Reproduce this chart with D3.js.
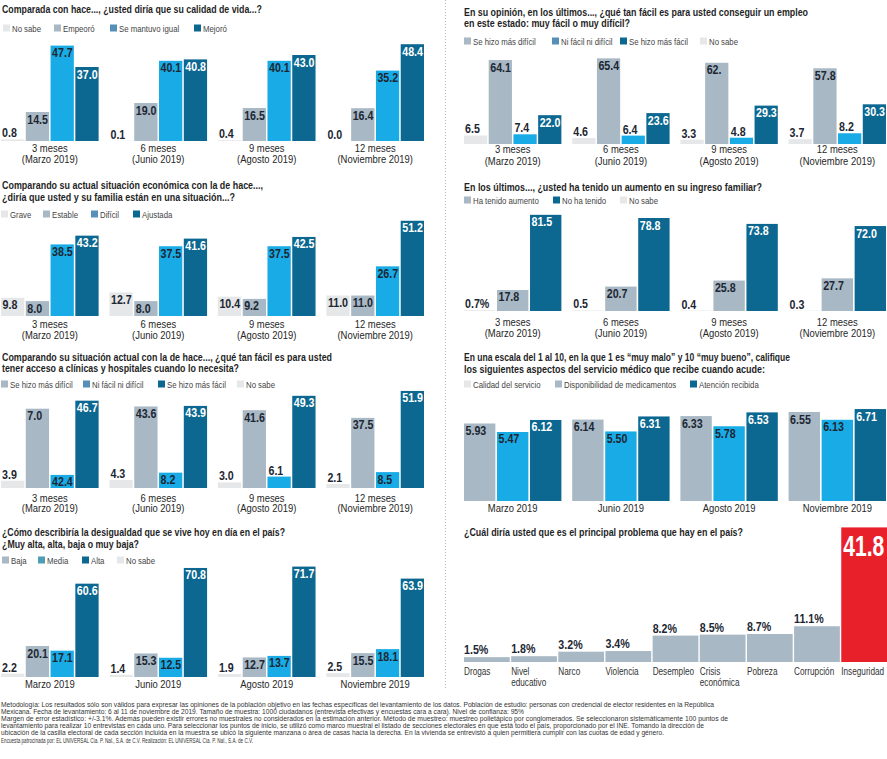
<!DOCTYPE html>
<html>
<head>
<meta charset="utf-8">
<script src="https://cdn.jsdelivr.net/npm/d3@7"></script>
<style>
body{margin:0;background:#fff;}
svg{display:block;font-family:'Liberation Sans',Arial,sans-serif;}
.tt{font-weight:bold;font-size:11px;fill:#1f1f1f;}
.lg{font-size:9.5px;fill:#444;}
.vl{font-weight:bold;font-size:13px;}
.ax text{font-size:11.5px;fill:#262626;}
.ax2 text{font-size:10px;fill:#333;}
.ft{font-size:7px;fill:#333;}
</style>
</head>
<body>
<div id="chart"></div>
<script>
/* datos */

var periodos = ["3 meses|(Marzo 2019)", "6 meses|(Junio 2019)", "9 meses|(Agosto 2019)", "12 meses|(Noviembre 2019)"];
var meses = ["Marzo 2019", "Junio 2019", "Agosto 2019", "Noviembre 2019"];

// calidad de vida
var vidaSeries = ["No sabe", "Empeoró", "Se mantuvo igual", "Mejoró"];
var vidaNoSabe = [0.8, 0.1, 0.4, 0.0];
var vidaEmpeoro = [14.5, 19.0, 16.5, 16.4];
var vidaIgual = [47.7, 40.1, 40.1, 35.2];
var vidaMejoro = [37.0, 40.8, 43.0, 48.4];

// empleo
var empleoSeries = ["No sabe", "Se hizo más difícil", "Ni fácil ni difícil", "Se hizo más fácil"];
var empleoNoSabe = [6.5, 4.6, 3.3, 3.7];
var empleoDificil = [64.1, 65.4, 62.0, 57.8];
var empleoNi = [7.4, 6.4, 4.8, 8.2];
var empleoFacil = [22.0, 23.6, 29.3, 30.3];

// situación económica
var ecoSeries = ["Grave", "Estable", "Difícil", "Ajustada"];
var ecoGrave = [9.8, 12.7, 10.4, 11.0];
var ecoEstable = [8.0, 8.0, 9.2, 11.0];
var ecoDificil = [38.5, 37.5, 37.5, 26.7];
var ecoAjustada = [43.2, 41.6, 42.5, 51.2];

// ingreso familiar
var ingresoSeries = ["No sabe", "Ha tenido aumento", "No ha tenido"];
var ingresoNoSabe = [0.7, 0.5, 0.4, 0.3];
var ingresoAumento = [17.8, 20.7, 25.8, 27.7];
var ingresoNo = [81.5, 78.8, 73.8, 72.0];

// clínicas y hospitales
var clinSeries = ["No sabe", "Se hizo más difícil", "Ni fácil ni difícil", "Se hizo más fácil"];
var clinNoSabe = [3.9, 4.3, 3.0, 2.1];
var clinDificil = [42.4, 43.6, 41.6, 37.5];
var clinNi = [7.0, 8.2, 6.1, 8.5];
var clinFacil = [46.7, 43.9, 49.3, 51.9];

// servicio médico (escala 1 a 10)
var servSeries = ["Calidad del servicio", "Disponibilidad de medicamentos", "Atención recibida"];
var servCalidad = [5.93, 6.14, 6.33, 6.55];
var servDisp = [5.47, 5.50, 5.78, 6.13];
var servAtencion = [6.12, 6.31, 6.53, 6.71];

// desigualdad
var desSeries = ["No sabe", "Baja", "Media", "Alta"];
var desNoSabe = [2.2, 1.4, 1.9, 2.5];
var desBaja = [20.1, 15.3, 12.7, 15.5];
var desMedia = [17.1, 12.5, 13.7, 18.1];
var desAlta = [60.6, 70.8, 71.7, 63.9];

// principal problema
var problemas = ["Drogas", "Nivel|educativo", "Narco", "Violencia", "Desempleo", "Crisis|económica", "Pobreza", "Corrupción", "Inseguridad"];
var problemasPct = [1.5, 1.8, 3.2, 3.4, 8.2, 8.5, 8.7, 11.1, 41.8];

// etiquetas tal cual salen impresas (panel|grupo|serie)
var etiquetasImpresas = {"clin|0|1": "7.0", "clin|0|2": "42.4", "empleo|2|1": "62.", "ingreso|0|0": "0.7%"};

var notas = [
  "Metodología: Los resultados sólo son válidos para expresar las opiniones de la población objetivo en las fechas específicas del levantamiento de los datos. Población de estudio: personas con credencial de elector residentes en la República",
  "Mexicana. Fecha de levantamiento: 6 al 11 de noviembre de 2019. Tamaño de muestra: 1000 ciudadanos (entrevista efectivas y encuestas cara a cara). Nivel de confianza: 95%",
  "Margen de error estadístico: +/-3.1%. Además pueden existir errores no muestrales no considerados en la estimación anterior. Método de muestreo: muestreo polietápico por conglomerados. Se seleccionaron sistemáticamente 100 puntos de",
  "levantamiento para realizar 10 entrevistas en cada uno. Para seleccionar los puntos de inicio, se utilizó como marco muestral el listado de secciones electorales en que está todo el país, proporcionado por el INE. Tomando la dirección de",
  "ubicación de la casilla electoral de cada sección incluida en la muestra se ubicó la siguiente manzana o área de casas hacia la derecha. En la vivienda se entrevistó a quien permitiera cumplir con las cuotas de edad y género.",
  "Encuesta patrocinada por: EL UNIVERSAL Cía. P. Nal., S.A. de C.V. Realización: EL UNIVERSAL Cía. P. Nal., S.A. de C.V."
];

/* estilos */

var LIGHT = "#e6e7e8", GRAY = "#a8b8c4", BRIGHT = "#19abe6", DARK = "#0c6890", MID = "#5690b8", TEAL = "#4d9db6", RED = "#e8202a";
var INK = "#1d2733";

var svg = d3.select("#chart").append("svg").attr("width", 887).attr("height", 759);

// separador vertical punteado
svg.append("line").attr("x1", 445.5).attr("x2", 445.5).attr("y1", 0).attr("y2", 690)
  .attr("stroke", "#b5b5b5").attr("stroke-width", 1).attr("stroke-dasharray", "1,2");

function barras(p){
  var g = svg.append("g");
  p.titulo.forEach(function(t){
    g.append("text").attr("class", "tt").attr("x", t[1]).attr("y", t[2])
      .attr("textLength", t[3]).attr("lengthAdjust", "spacingAndGlyphs").text(t[0]);
  });
  p.leyenda.forEach(function(l){
    g.append("rect").attr("x", l[2]).attr("y", p.leyY - 3.5).attr("width", 7).attr("height", 7).attr("fill", l[1]);
    g.append("text").attr("class", "lg").attr("x", l[2] + 9).attr("y", p.leyY + 3.5).text(l[0]);
  });

  var nombres = p.series.map(function(s){return s[0];});
  var x0 = d3.scaleBand().domain(p.grupos).range(p.rango).paddingInner(0.1);
  var x1 = d3.scaleBand().domain(nombres).range([0, x0.bandwidth()]).paddingInner(p.padS);
  var top = d3.max(p.series, function(s){return d3.max(s[1]);});
  var y = d3.scaleLinear().domain([p.y0, top]).range([p.base, p.base - (top - p.y0) * p.k]);
  var fmt = d3.format(p.fmt);

  p.series.forEach(function(s, si){
    var gs = g.append("g");
    gs.selectAll("rect").data(s[1]).enter().append("rect")
      .attr("x", function(d, i){return x0(p.grupos[i]) + x1(s[0]);})
      .attr("y", function(d){return y(d);})
      .attr("width", x1.bandwidth())
      .attr("height", function(d){return p.base - y(d);})
      .attr("fill", s[2]);
    gs.selectAll("text").data(s[1]).enter().append("text").attr("class", "vl")
      .each(function(d, i){
        var h = p.base - y(d), bx = x0(p.grupos[i]) + x1(s[0]);
        var t = d3.select(this).text(etiquetasImpresas[p.id + "|" + i + "|" + si] || fmt(d));
        if(h >= 13){
          t.attr("x", bx + 1.5).attr("y", y(d) + 11.5).attr("fill", s[2] == DARK ? "#fff" : INK);
        }else{
          t.attr("x", bx + 1).attr("y", y(d) - 2).attr("fill", INK);
        }
      });
  });

  var ax = g.append("g").attr("class", "ax").attr("transform", "translate(0," + p.base + ")")
    .call(d3.axisBottom(x0).tickSize(0));
  ax.attr("font-family", null).attr("font-size", null);
  ax.select(".domain").remove();
  ax.selectAll(".tick text").each(function(d){
    var t = d3.select(this).text(null).attr("dy", null).attr("y", null);
    d.split("|").forEach(function(line, j){
      t.append("tspan").attr("x", 0).attr("y", p.ejeY[j] - p.base).text(line);
    });
  });
}

barras({
  id: "vida", grupos: periodos, rango: [1, 424], padS: 0.06, base: 141, k: 2.0, y0: 0, fmt: ".1f",
  titulo: [["Comparada con hace..., ¿usted diría que su calidad de vida...?", 2, 13, 260]],
  leyY: 28,
  leyenda: [[vidaSeries[0], LIGHT, 3], [vidaSeries[1], GRAY, 54], [vidaSeries[2], MID, 110], [vidaSeries[3], DARK, 194]],
  series: [[vidaSeries[0], vidaNoSabe, LIGHT], [vidaSeries[1], vidaEmpeoro, GRAY], [vidaSeries[2], vidaIgual, BRIGHT], [vidaSeries[3], vidaMejoro, DARK]],
  ejeY: [151.5, 162.5]
});

barras({
  id: "empleo", grupos: periodos, rango: [464, 886], padS: 0.06, base: 144, k: 1.31, y0: 0, fmt: ".1f",
  titulo: [["En su opinión, en los últimos..., ¿qué tan fácil es para usted conseguir un empleo", 464, 15.5, 344],
           ["en este estado: muy fácil o muy difícil?", 464, 27, 166]],
  leyY: 41,
  leyenda: [[empleoSeries[1], GRAY, 464], [empleoSeries[2], MID, 552], [empleoSeries[3], DARK, 620], [empleoSeries[0], LIGHT, 700]],
  series: [[empleoSeries[0], empleoNoSabe, LIGHT], [empleoSeries[1], empleoDificil, GRAY], [empleoSeries[2], empleoNi, BRIGHT], [empleoSeries[3], empleoFacil, DARK]],
  ejeY: [152.5, 164.5]
});

barras({
  id: "eco", grupos: periodos, rango: [1, 424], padS: 0.06, base: 316, k: 1.86, y0: 0, fmt: ".1f",
  titulo: [["Comparando su actual situación económica con la de hace...,", 2, 189, 261],
           ["¿diría que usted y su familia están en una situación...?", 2, 201, 233]],
  leyY: 214,
  leyenda: [[ecoSeries[0], LIGHT, 1], [ecoSeries[1], GRAY, 43], [ecoSeries[2], MID, 91], [ecoSeries[3], DARK, 133]],
  series: [[ecoSeries[0], ecoGrave, LIGHT], [ecoSeries[1], ecoEstable, GRAY], [ecoSeries[2], ecoDificil, BRIGHT], [ecoSeries[3], ecoAjustada, DARK]],
  ejeY: [328, 338.5]
});

barras({
  id: "ingreso", grupos: periodos, rango: [464, 886], padS: 0.05, base: 311, k: 1.18, y0: 0, fmt: ".1f",
  titulo: [["En los últimos..., ¿usted ha tenido un aumento en su ingreso familiar?", 464, 191, 298]],
  leyY: 200,
  leyenda: [[ingresoSeries[1], GRAY, 464], [ingresoSeries[2], DARK, 553], [ingresoSeries[0], LIGHT, 620]],
  series: [[ingresoSeries[0], ingresoNoSabe, LIGHT], [ingresoSeries[1], ingresoAumento, GRAY], [ingresoSeries[2], ingresoNo, DARK]],
  ejeY: [326, 336.5]
});

barras({
  id: "clin", grupos: periodos, rango: [1, 424], padS: 0.06, base: 488, k: 1.87, y0: 0, fmt: ".1f",
  titulo: [["Comparando su situación actual con la de hace..., ¿qué tan fácil es para usted", 2, 361, 330],
           ["tener acceso a clínicas y hospitales cuando lo necesita?", 2, 372, 237]],
  leyY: 384,
  leyenda: [[clinSeries[1], GRAY, 1], [clinSeries[2], MID, 83], [clinSeries[3], DARK, 158], [clinSeries[0], LIGHT, 237]],
  series: [[clinSeries[0], clinNoSabe, LIGHT], [clinSeries[1], clinDificil, GRAY], [clinSeries[2], clinNi, BRIGHT], [clinSeries[3], clinFacil, DARK]],
  ejeY: [501.5, 512]
});

barras({
  id: "serv", grupos: meses, rango: [464, 886], padS: 0.05, base: 501, k: 18.5, y0: 1.74, fmt: ".2f",
  titulo: [["En una escala del 1 al 10, en la que 1 es “muy malo” y 10 “muy bueno”, califique", 464, 361, 326],
           ["los siguientes aspectos del servicio médico que recibe cuando acude:", 464, 373, 301]],
  leyY: 384,
  leyenda: [[servSeries[0], LIGHT, 464], [servSeries[1], GRAY, 555], [servSeries[2], DARK, 690]],
  series: [[servSeries[0], servCalidad, GRAY], [servSeries[1], servDisp, BRIGHT], [servSeries[2], servAtencion, DARK]],
  ejeY: [512]
});

barras({
  id: "des", grupos: meses, rango: [1, 424], padS: 0.06, base: 677, k: 1.54, y0: 0, fmt: ".1f",
  titulo: [["¿Cómo describiría la desigualdad que se vive hoy en día en el país?", 2, 536, 283],
           ["¿Muy alta, alta, baja o muy baja?", 2, 548, 137]],
  leyY: 560,
  leyenda: [[desSeries[1], GRAY, 2], [desSeries[2], TEAL, 38], [desSeries[3], DARK, 82], [desSeries[0], LIGHT, 117]],
  series: [[desSeries[0], desNoSabe, LIGHT], [desSeries[1], desBaja, GRAY], [desSeries[2], desMedia, BRIGHT], [desSeries[3], desAlta, DARK]],
  ejeY: [687.5]
});

/* principal problema */
(function(){
  var base = 662;
  var g = svg.append("g");
  g.append("text").attr("class", "tt").attr("x", 464).attr("y", 536)
    .attr("textLength", 279).attr("lengthAdjust", "spacingAndGlyphs")
    .text("¿Cuál diría usted que es el principal problema que hay en el país?");
  var x = d3.scaleBand().domain(problemas).range([464, 887]).paddingInner(0.03);
  var y = d3.scaleLinear().domain([0, d3.max(problemasPct)]).range([base, base - d3.max(problemasPct) * 3.22]);
  var ult = problemas.length - 1;
  g.selectAll("rect").data(problemasPct).enter().append("rect")
    .attr("x", function(d, i){return x(problemas[i]);})
    .attr("y", function(d){return y(d);})
    .attr("width", x.bandwidth())
    .attr("height", function(d){return base - y(d);})
    .attr("fill", function(d, i){return i == ult ? RED : GRAY;});
  g.selectAll("text.vl").data(problemasPct).enter().append("text").attr("class", "vl")
    .each(function(d, i){
      var t = d3.select(this);
      if(i == ult){
        t.text(d3.format(".1f")(d)).attr("x", x(problemas[i]) + 2).attr("y", y(d) + 29)
          .attr("fill", "#fff").style("font-size", "30px")
          .attr("textLength", 41).attr("lengthAdjust", "spacingAndGlyphs");
      }else{
        t.text(d3.format(".1f")(d) + "%").attr("x", x(problemas[i])).attr("y", y(d) - 3).attr("fill", INK);
      }
    });
  var ax = g.append("g").attr("class", "ax2").attr("transform", "translate(0," + base + ")")
    .call(d3.axisBottom(x).tickSize(0));
  ax.attr("font-family", null).attr("font-size", null);
  ax.select(".domain").remove();
  ax.selectAll(".tick text").each(function(d){
    var t = d3.select(this).text(null).attr("dy", null).attr("y", null).attr("text-anchor", "start");
    d.split("|").forEach(function(line, j){
      t.append("tspan").attr("x", -x.bandwidth() / 2).attr("y", [674.5, 686][j] - base).text(line);
    });
  });
})();

/* notas metodológicas */
var anchos = [713, 523, 727, 703, 663, 252];
svg.append("g").selectAll("text").data(notas).enter().append("text").attr("class", "ft")
  .attr("x", 1)
  .attr("y", function(d, i){return 706.5 + i * 7.2;})
  .attr("textLength", function(d, i){return anchos[i];})
  .attr("lengthAdjust", "spacingAndGlyphs")
  .text(function(d){return d;});

// no hay fuente angosta instalada: se comprime Liberation Sans al 82 %
// (los textos centrados se pasan a "start" para que el centrado use el ancho comprimido)
svg.selectAll("text").each(function(){
  if(this.hasAttribute("textLength")) return;
  var spans = this.querySelectorAll("tspan");
  var centrado = getComputedStyle(this).textAnchor == "middle";
  var items = spans.length ? Array.from(spans) : [this];
  items.forEach(function(el){
    var w = el.getComputedTextLength() * 0.82;
    el.setAttribute("textLength", w);
    el.setAttribute("lengthAdjust", "spacingAndGlyphs");
    if(centrado) el.setAttribute("x", (+el.getAttribute("x") || 0) - w / 2);
  });
  if(centrado) this.setAttribute("text-anchor", "start");
});
</script>
</body>
</html>
